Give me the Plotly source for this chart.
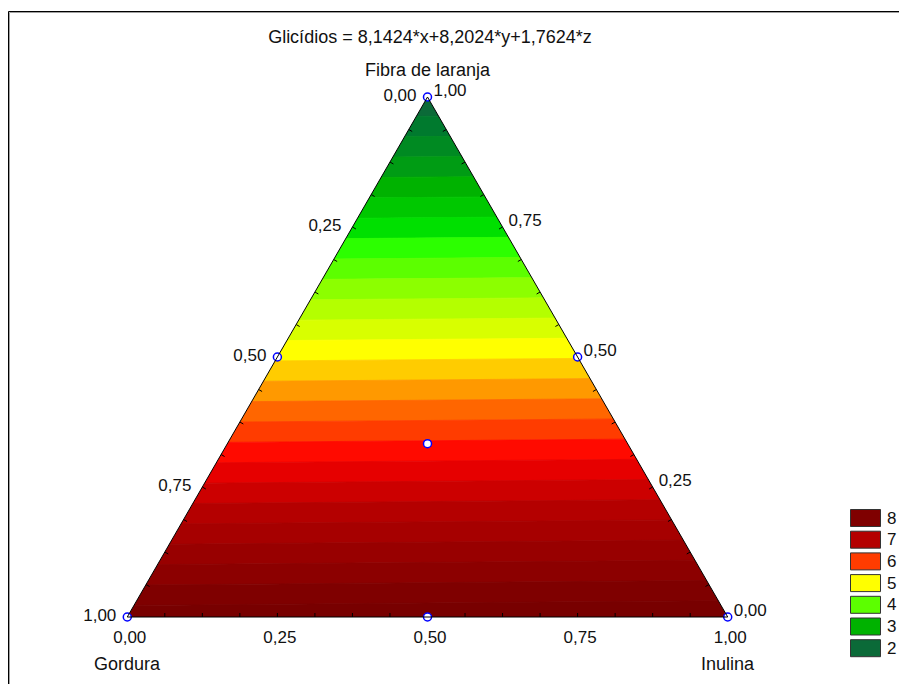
import plotly.graph_objects as go

# ---------------- data ----------------
# Glicídios = 8,1424*x + 8,2024*y + 1,7624*z   (x = Gordura, y = Inulina, z = Fibra de laranja)
coef_gordura = 8.1424
coef_inulina = 8.2024
coef_fibra = 1.7624

# contour band edges (response levels)
level_edges = [1.75, 2.00, 2.25, 2.50, 2.75, 3.00, 3.25, 3.50, 3.75, 4.00, 4.25, 4.50, 4.75,
               5.00, 5.25, 5.50, 5.75, 6.00, 6.25, 6.50, 6.75, 7.00, 7.25, 7.50, 7.75, 8.00, 8.25]

# design points (simplex-centroid)
design_fibra   = [1.0, 0.0, 0.0, 0.5, 0.5, 0.0, 1/3]
design_gordura = [0.0, 1.0, 0.0, 0.5, 0.0, 0.5, 1/3]
design_inulina = [0.0, 0.0, 1.0, 0.0, 0.5, 0.5, 1/3]

legend_levels = [8, 7, 6, 5, 4, 3, 2]
major_ticks = [0.0, 0.25, 0.5, 0.75, 1.0]
minor_ticks = [0.0625, 0.125, 0.1875, 0.25, 0.3125, 0.375, 0.4375, 0.5,
               0.5625, 0.625, 0.6875, 0.75, 0.8125, 0.875, 0.9375]

title_text = "Glicídios = 8,1424*x+8,2024*y+1,7624*z"
axis_titles = {"a": "Fibra de laranja", "b": "Gordura", "c": "Inulina"}

# ---------------- style ----------------
band_colors = ["#0b6a38", "#007a2e", "#008a22", "#009c14", "#00b200", "#00c800", "#00e000",
               "#2cff00", "#5cff00", "#8cff00", "#b4ff00", "#d8ff00", "#ffff00", "#ffcc00",
               "#ff9900", "#ff6600", "#ff3c00", "#ff0a00", "#e60000", "#cc0000", "#b40000",
               "#a60000", "#980000", "#8c0000", "#7f0000", "#780000"]

W, H = 899, 684
FONT = "Liberation Sans, Arial, sans-serif"
TXT = "#111111"

# triangle bounding box in window pixels
TRI_L, TRI_R, TRI_TOP, TRI_BOT = 127, 728, 97, 617


def px_x(p):
    return p / W


def px_y(p):
    return 1 - p / H


def response(p):
    a, b, c = p
    return coef_fibra * a + coef_gordura * b + coef_inulina * c


def clip(poly, level, keep_above):
    out = []
    n = len(poly)
    for i in range(n):
        P, Q = poly[i], poly[(i + 1) % n]
        fp, fq = response(P) - level, response(Q) - level
        if not keep_above:
            fp, fq = -fp, -fq
        if fp >= 0:
            out.append(P)
        if (fp >= 0) != (fq >= 0):
            t = fp / (fp - fq)
            out.append(tuple(P[k] + t * (Q[k] - P[k]) for k in range(3)))
    return out


triangle = [(1.0, 0.0, 0.0), (0.0, 1.0, 0.0), (0.0, 0.0, 1.0)]

fig = go.Figure()
for i in range(len(level_edges) - 1):
    lo, hi = level_edges[i], level_edges[i + 1]
    poly = clip(clip(triangle, lo, True), hi, False)
    if len(poly) < 3:
        continue
    poly = poly + [poly[0]]
    col = band_colors[i]
    fig.add_trace(go.Scatterternary(
        a=[p[0] for p in poly], b=[p[1] for p in poly], c=[p[2] for p in poly],
        mode="lines", fill="toself", fillcolor=col,
        line=dict(color=col, width=0.8), hoverinfo="skip", showlegend=False))

# inward tick marks along the three edges
d = 4.0 / (TRI_BOT - TRI_TOP)
ta, tb, tc = [], [], []
for t in minor_ticks:
    # bottom edge (a = 0): toward apex
    ta += [0, d, None]; tb += [1 - t, 1 - t - d / 2, None]; tc += [t, t - d / 2, None]
    # left edge (c = 0)
    ta += [t, t - d / 2, None]; tb += [1 - t, 1 - t - d / 2, None]; tc += [0, d, None]
    # right edge (b = 0)
    ta += [t, t - d / 2, None]; tb += [0, d, None]; tc += [1 - t, 1 - t - d / 2, None]
fig.add_trace(go.Scatterternary(a=ta, b=tb, c=tc, mode="lines",
                                line=dict(color="black", width=1),
                                hoverinfo="skip", showlegend=False))

fig.add_trace(go.Scatterternary(
    a=design_fibra, b=design_gordura, c=design_inulina, mode="markers",
    marker=dict(symbol="circle", size=8, color="white", line=dict(color="#0000ff", width=1.5)),
    cliponaxis=False, showlegend=False, hoverinfo="skip"))

# labels along an edge show the complementary component (Statistica convention)
tick_labels = [f"{1 - v:.2f}".replace(".", ",") for v in major_ticks]


def axis(ticklen):
    return dict(title=dict(text=""),
                tickmode="array", tickvals=major_ticks, ticktext=tick_labels,
                ticks="outside", ticklen=ticklen, tickcolor="rgba(0,0,0,0)",
                tickfont=dict(family=FONT, size=17, color=TXT),
                showgrid=False, showline=True, linecolor="black", linewidth=1,
                min=0)


shapes = [
    dict(type="rect", xref="paper", yref="paper", x0=px_x(8.5), y0=-0.05, x1=1.05, y1=px_y(11.5),
         line=dict(color="black", width=1), fillcolor="rgba(0,0,0,0)", layer="above"),
    dict(type="rect", xref="paper", yref="paper", x0=px_x(9.5), y0=-0.05, x1=1.05, y1=px_y(12.5),
         line=dict(color="#a0a0a0", width=1), fillcolor="rgba(0,0,0,0)", layer="above"),
]

# axis titles at the triangle vertices
annotations = [
    dict(text=axis_titles["a"], x=px_x((TRI_L + TRI_R) / 2), y=px_y(TRI_TOP - 27)),
    dict(text=axis_titles["b"], x=px_x(TRI_L), y=px_y(TRI_BOT + 47)),
    dict(text=axis_titles["c"], x=px_x(TRI_R), y=px_y(TRI_BOT + 47)),
]
for an in annotations:
    an.update(xref="paper", yref="paper", xanchor="center", yanchor="middle", showarrow=False,
              font=dict(family=FONT, size=18, color=TXT))

# legend: swatch = band whose upper edge equals the level
leg_x0, leg_top, sw_w, sw_h, step = 850.5, 509.5, 30, 17, 21.7
for k, lev in enumerate(legend_levels):
    idx = [round(e, 2) for e in level_edges].index(float(lev)) - 1
    col = band_colors[idx]
    y0 = leg_top + k * step
    shapes.append(dict(type="rect", xref="paper", yref="paper",
                       x0=px_x(leg_x0), x1=px_x(leg_x0 + sw_w),
                       y0=px_y(y0 + sw_h), y1=px_y(y0),
                       line=dict(color="#333", width=1), fillcolor=col))
    annotations.append(dict(text=str(lev), xref="paper", yref="paper", x=px_x(leg_x0 + sw_w + 4),
                            y=px_y(y0 + sw_h / 2), xanchor="left", yanchor="middle", showarrow=False,
                            font=dict(family=FONT, size=17, color=TXT)))

fig.update_layout(
    width=W, height=H,
    margin=dict(l=0, r=0, t=0, b=0),
    paper_bgcolor="white", plot_bgcolor="white",
    title=dict(text=title_text, x=430 / W, xanchor="center", xref="container",
               y=px_y(37), yanchor="middle", yref="container",
               font=dict(family=FONT, size=18, color=TXT)),
    ternary=dict(
        domain=dict(x=[px_x(TRI_L), px_x(TRI_R)], y=[px_y(TRI_BOT), px_y(TRI_TOP)]),
        bgcolor="white", sum=1,
        aaxis=axis(8),
        baxis=axis(5),
        caxis=axis(6),
    ),
    shapes=shapes,
    annotations=annotations,
    showlegend=False,
)

# remove the default page margin so the figure fills the window exactly
fig.write_html("out.html", config={"displayModeBar": False},
               post_script="document.body.style.margin='0';document.body.style.overflow='hidden';")
